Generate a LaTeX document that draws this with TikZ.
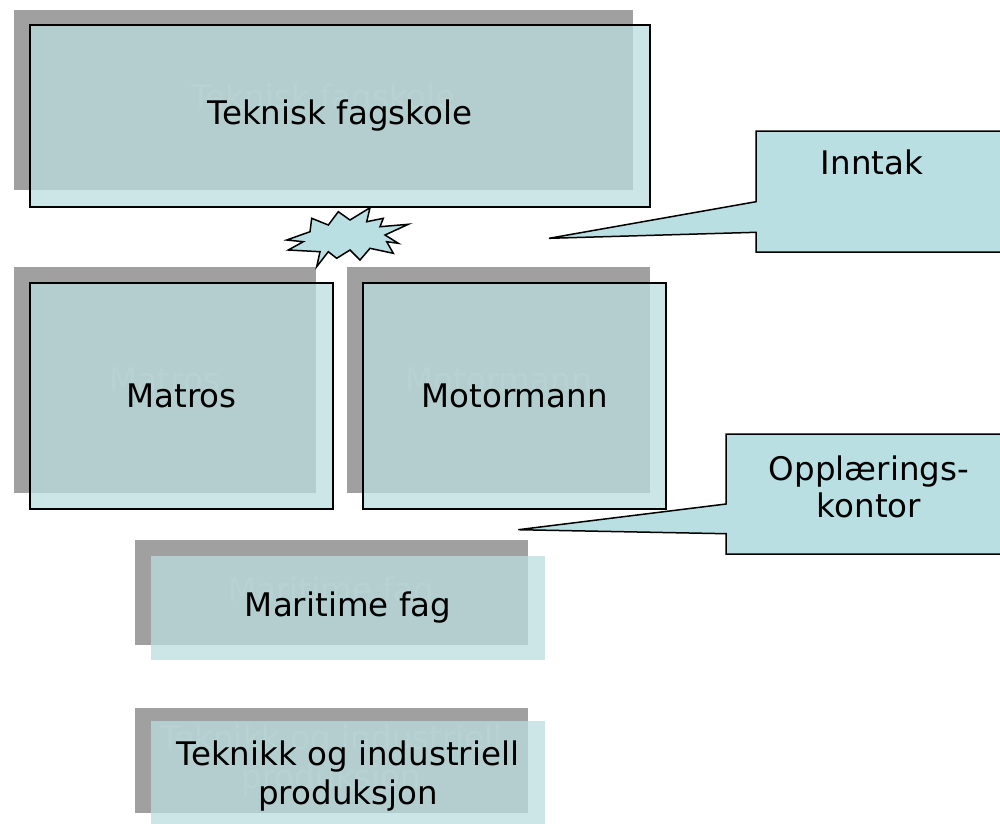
\documentclass[tikz,border=0pt]{standalone}
\usepackage{fontspec}
\setmainfont{DejaVu Sans}
\definecolor{shad}{HTML}{A0A0A0}
\definecolor{frontc}{RGB}{187,222,224}
\definecolor{callc}{HTML}{B9DFE2}
\definecolor{ghost}{HTML}{B0B0B0}
\begin{document}
\begin{tikzpicture}[x=1pt,y=-1pt,
  shadowbox/.style={fill=shad,draw=none,inner sep=0pt,text=ghost,align=center,font=\fontsize{32.5}{38.5}\selectfont},
  frontbox/.style={fill=frontc,fill opacity=0.75,text opacity=1,draw=black,line width=1.5pt,inner sep=0pt,align=center,font=\fontsize{32.5}{38.5}\selectfont},
  frontplain/.style={frontbox,draw=none},
  callout/.style={fill=callc,draw=black,line width=1.5pt,line join=miter},
  calltext/.style={align=center,font=\fontsize{32.5}{37}\selectfont},
  burst/.style={fill=callc,draw=black,line width=1.5pt,line join=miter}]
\useasboundingbox (0,0) rectangle (1000,823);
% shadows with ghost text
\node[shadowbox,minimum width=619pt,minimum height=180pt] (s1) at (323.5,100) {Teknisk fagskole};
\node[shadowbox,minimum width=302pt,minimum height=226pt] (s2) at (165,380) {Matros};
\node[shadowbox,minimum width=303pt,minimum height=226pt] (s3) at (498.5,380) {Motormann};
\node[shadowbox,minimum width=393pt,minimum height=105pt] (s4) at (331.5,592.5) {Maritime fag};
\node[shadowbox,minimum width=393pt,minimum height=105pt] (s5) at (331.5,760) {Teknikk og industriell\\produksjon};
% front boxes
\node[frontbox,minimum width=620pt,minimum height=182pt] (f1) at (340,116) {Teknisk fagskole};
\node[frontbox,minimum width=303pt,minimum height=226pt] (f2) at (181.5,396) {Matros};
\node[frontbox,minimum width=303pt,minimum height=226pt] (f3) at (514.5,396) {Motormann};
\node[frontplain,minimum width=394pt,minimum height=104pt] (f4) at (348,608) {Maritime fag};
\node[frontplain,minimum width=394pt,minimum height=104pt] (f5) at (348,773) {};
\node[calltext,font=\fontsize{32.5}{38.5}\selectfont] (f5t) at (348,776) {Teknikk og industriell\\produksjon};
% explosion
\draw[burst] (311.7,218.3) -- (328.3,225) -- (338.3,211.7) -- (350,220) -- (370,207.7) -- (366.7,221.7)
  -- (383.3,218.3) -- (380,226.7) -- (408.3,224.3) -- (385,235) -- (398.3,243.3) -- (386.7,241.7)
  -- (393.3,253.3) -- (370,248.3) -- (360,260) -- (350,250) -- (336.7,258.3) -- (328.3,251.7)
  -- (316.7,266.7) -- (320,251.7) -- (288.3,250) -- (303.3,241.7) -- (286.7,240) -- (310,231.7) -- cycle;
% callouts
\coordinate (t1) at (549,238.3);
\coordinate (t2) at (518.3,529.7);
\draw[callout] (756,131) -- (1010,131) -- (1010,252) -- (756,252) -- (756,232.3) -- (t1) -- (756,201.7) -- cycle;
\node[calltext] (c1) at (872,162) {Inntak};
\draw[callout] (726,434) -- (1010,434) -- (1010,554) -- (726,554) -- (726,533.7) -- (t2) -- (726,504) -- cycle;
\node[calltext] (c2) at (869,487) {Opplærings-\\kontor};
\end{tikzpicture}
\end{document}
